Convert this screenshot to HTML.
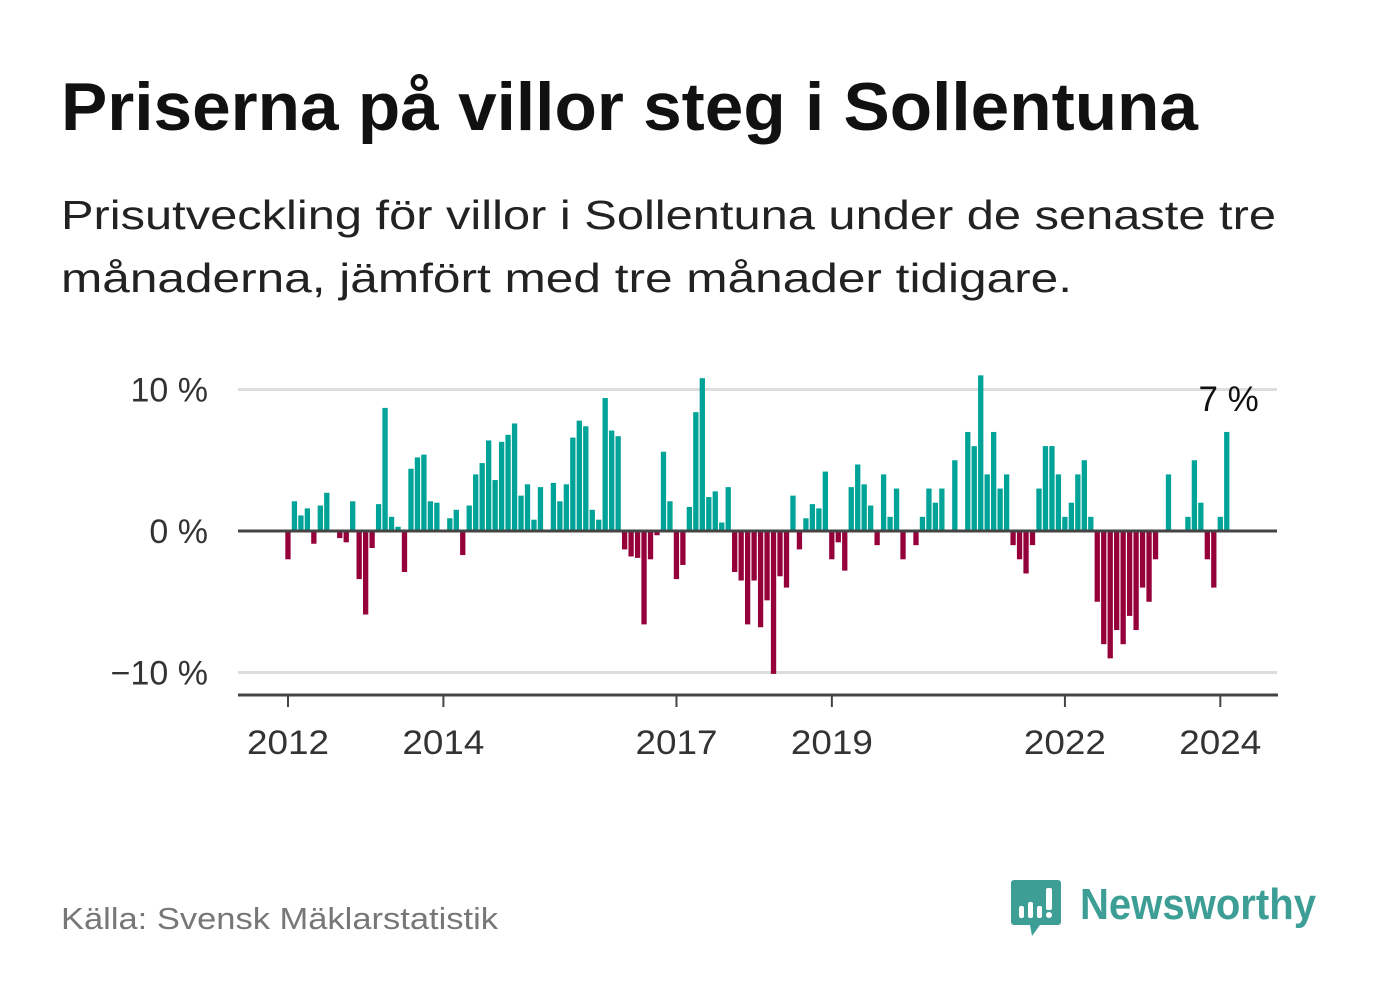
<!DOCTYPE html>
<html><head><meta charset="utf-8"><style>
body{margin:0;background:#fff;width:1382px;height:999px;overflow:hidden;font-family:"Liberation Sans",sans-serif;}
</style></head><body>
<svg id="chart" style="position:absolute;left:0;top:0" width="1382" height="999" font-family="Liberation Sans, sans-serif">
<text x="61" y="130" font-size="68" font-weight="bold" fill="#111" textLength="1137" lengthAdjust="spacingAndGlyphs">Priserna på villor steg i Sollentuna</text>
<text x="61" y="229" font-size="41" fill="#222" textLength="1215" lengthAdjust="spacingAndGlyphs">Prisutveckling för villor i Sollentuna under de senaste tre</text>
<text x="61" y="292" font-size="41" fill="#222" textLength="1011" lengthAdjust="spacingAndGlyphs">månaderna, jämfört med tre månader tidigare.</text>
<text x="61" y="929" font-size="31" fill="#777" textLength="437" lengthAdjust="spacingAndGlyphs">Källa: Svensk Mäklarstatistik</text>
<text x="1080" y="919" font-size="44" font-weight="bold" fill="#3d9e96" textLength="236" lengthAdjust="spacingAndGlyphs">Newsworthy</text>
<g transform="translate(1010,878)">
<path d="M4 2h44a3 3 0 0 1 3 3v39a3 3 0 0 1-3 3H30L22 58 20 47H4a3 3 0 0 1-3-3V5a3 3 0 0 1 3-3z" fill="#3d9e96"/>
<rect x="9" y="28" width="5" height="12" rx="2" fill="#fff"/><rect x="18" y="24" width="5" height="16" rx="2" fill="#fff"/><rect x="27" y="28" width="5" height="12" rx="2" fill="#fff"/><rect x="36" y="10" width="6" height="22" rx="2" fill="#fff"/><circle cx="39" cy="37" r="3" fill="#fff"/>
</g>
</svg>
<script>
const startYear = 2012;
const values = [-2.0,2.1,1.1,1.6,-0.9,1.8,2.7,0,-0.5,-0.8,2.1,-3.4,-5.9,-1.2,1.9,8.7,1.0,0.3,-2.9,4.4,5.2,5.4,2.1,2.0,0,0.9,1.5,-1.7,1.8,4.0,4.8,6.4,3.6,6.3,6.8,7.6,2.5,3.3,0.8,3.1,0,3.4,2.1,3.3,6.6,7.8,7.4,1.5,0.8,9.4,7.1,6.7,-1.3,-1.8,-1.9,-6.6,-2.0,-0.3,5.6,2.1,-3.4,-2.4,1.7,8.4,10.8,2.4,2.8,0.6,3.1,-2.9,-3.5,-6.6,-3.5,-6.8,-4.9,-10.1,-3.2,-4.0,2.5,-1.3,0.9,1.9,1.6,4.2,-2.0,-0.8,-2.8,3.1,4.7,3.3,1.8,-1.0,4.0,1.0,3.0,-2.0,0,-1.0,1.0,3.0,2.0,3.0,0,5.0,0,7.0,6.0,11.0,4.0,7.0,3.0,4.0,-1.0,-2.0,-3.0,-1.0,3.0,6.0,6.0,4.0,1.0,2.0,4.0,5.0,1.0,-5.0,-8.0,-9.0,-7.0,-8.0,-6.0,-7.0,-4.0,-5.0,-2.0,0,4.0,0,0,1.0,5.0,2.0,-2.0,-4.0,1.0,7.0];
const yTicks = [10,0,-10];
const yTickLabels = ["10 %","0 %","−10 %"];
const xTickYears = [2012,2014,2017,2019,2022,2024];
const lastLabel = "7 %";
const NS="http://www.w3.org/2000/svg";
const svg=document.getElementById('chart');
const x=i=>288+i*6.4745;
const y=v=>531-v*14.15;
function mk(t,a){const e=document.createElementNS(NS,t);for(const k in a)e.setAttribute(k,a[k]);svg.appendChild(e);return e;}
yTicks.forEach((v,j)=>{
  if(v!==0){const g=mk('line',{x1:238,x2:1277,y1:y(v),y2:y(v),stroke:'#ddd','stroke-width':3});
  
  }
  const t=mk('text',{x:208,y:y(v)+12,'text-anchor':'end','font-size':34,fill:'#333'});
  
  
  t.textContent=yTickLabels[j];
});
values.forEach((v,i)=>{
  if(v===0)return;
  const r=mk('rect',{x:x(i)-2.7,width:5.3,y:Math.min(y(v),y(0)),height:Math.abs(y(v)-y(0)),fill:v>0?'#00a398':'#95003a'});
  
  
});
const z=mk('line',{x1:238,x2:1277,y1:y(0),y2:y(0),stroke:'#444','stroke-width':3});


const ax=mk('line',{x1:238,x2:1278,y1:695,y2:695,stroke:'#444','stroke-width':3});


xTickYears.forEach(yr=>{
  const xi=x((yr-startYear)*12);
  const tk=mk('line',{x1:xi,x2:xi,y1:695,y2:707,stroke:'#444','stroke-width':2});
  
  
  const t=mk('text',{x:xi,y:754,'text-anchor':'middle','font-size':34,fill:'#333',textLength:82,lengthAdjust:'spacingAndGlyphs'});
  
  
  t.textContent=yr;
});
const ll=mk('text',{x:x(values.length-1)+32,y:411,'text-anchor':'end','font-size':35,fill:'#111'});


ll.textContent=lastLabel;
</script>
</body></html>
